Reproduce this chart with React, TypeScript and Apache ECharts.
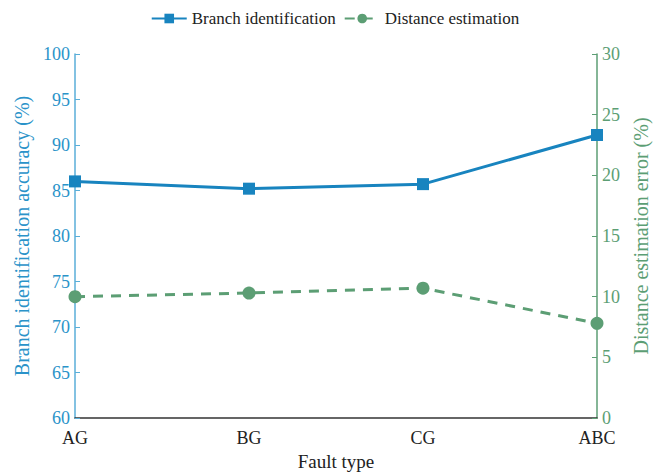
import React, { useEffect, useRef } from "react";
import * as echarts from "echarts";

const categories = ["AG", "BG", "CG", "ABC"];
const branchAccuracy = [86.0, 85.2, 85.7, 91.1];
const distanceError = [10.0, 10.3, 10.7, 7.8];

const BLUE = "#1884bf";
const BLUE_TEXT = "#2a93c9";
const GREEN = "#5c9e74";
const FONT = "'Liberation Serif', serif";

export default function App() {
  const ref = useRef<HTMLDivElement>(null);

  useEffect(() => {
    if (!ref.current) return;
    const chart = echarts.init(ref.current, null, { renderer: "svg" });
    chart.setOption({
      animation: false,
      textStyle: { fontFamily: FONT },
      legend: {
        top: -3,
        left: "center",
        itemWidth: 35,
        itemHeight: 12,
        itemGap: 8,
        textStyle: { fontFamily: FONT, fontSize: 17, color: "#222" },
        data: ["Branch identification", "Distance estimation"],
      },
      grid: { left: 67, right: 65, top: 46, bottom: 54, outerBoundsMode: "none", containLabel: false },
      xAxis: {
        type: "category",
        data: categories,
        boundaryGap: false,
        name: "Fault type",
        nameLocation: "middle",
        nameGap: 32,
        nameTextStyle: { fontFamily: FONT, fontSize: 19, color: "#222" },
        axisLine: { lineStyle: { color: "#333", width: 1.5 } },
        axisTick: { show: false },
        axisLabel: { fontFamily: FONT, fontSize: 18, color: "#222", margin: 12, lineHeight: 16 },
        splitLine: { show: false },
      },
      yAxis: [
        {
          type: "value",
          min: 60,
          max: 100,
          interval: 5,
          position: "left",
          name: "Branch identification accuracy (%)",
          nameLocation: "middle",
          nameRotate: 90,
          nameGap: 42,
          nameTextStyle: { fontFamily: FONT, fontSize: 20, color: BLUE_TEXT },
          axisLine: { show: true, lineStyle: { color: "#5aaed8", width: 1.5 } },
          axisTick: { show: true, inside: true, length: 5, lineStyle: { color: "#5aaed8" } },
          axisLabel: { fontFamily: FONT, fontSize: 18, color: BLUE_TEXT, margin: 5, lineHeight: 14 },
          splitLine: { show: false },
        },
        {
          type: "value",
          min: 0,
          max: 30,
          interval: 5,
          position: "right",
          name: "Distance estimation error (%)",
          nameLocation: "middle",
          nameRotate: 90,
          nameGap: 33,
          nameTextStyle: { fontFamily: FONT, fontSize: 20, color: GREEN },
          axisLine: { show: true, lineStyle: { color: GREEN, width: 1.5 } },
          axisTick: { show: true, inside: true, length: 5, lineStyle: { color: GREEN } },
          axisLabel: { fontFamily: FONT, fontSize: 18, color: GREEN, margin: 5, lineHeight: 14 },
          splitLine: { show: false },
        },
      ],
      series: [
        {
          name: "Branch identification",
          type: "line",
          yAxisIndex: 0,
          data: branchAccuracy,
          symbol: "rect",
          symbolSize: 12,
          lineStyle: { color: BLUE, width: 3 },
          itemStyle: { color: BLUE },
          z: 3,
        },
        {
          name: "Distance estimation",
          type: "line",
          yAxisIndex: 1,
          data: distanceError,
          symbol: "circle",
          symbolSize: 13,
          lineStyle: { color: GREEN, width: 3, type: [10, 8] },
          itemStyle: { color: GREEN },
          z: 2,
        },
      ],
    });
    return () => chart.dispose();
  }, []);

  return <div ref={ref} style={{ width: 654, height: 464 }} />;
}
